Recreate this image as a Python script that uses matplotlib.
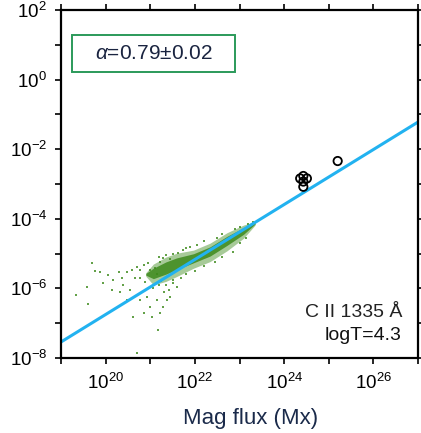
import matplotlib
matplotlib.use("Agg")
import matplotlib.pyplot as plt
import numpy as np
from matplotlib.patches import Rectangle

plt.rcParams['font.family'] = ['Liberation Sans', 'DejaVu Sans']
plt.rcParams['mathtext.fontset'] = 'custom'
plt.rcParams['mathtext.rm'] = 'Liberation Sans'
plt.rcParams['mathtext.it'] = 'Liberation Sans:italic'
plt.rcParams['mathtext.bf'] = 'Liberation Sans:bold'

# ---- data (log10 values) ----
# dense core of the green cloud: band edges
band_logx = [20.90, 21.07, 21.35, 21.59, 21.97, 22.34, 22.72, 23.09, 23.35]
band_upper_logy = [-5.55, -5.30, -5.10, -4.99, -4.90, -4.70, -4.40, -4.18, -4.08]
band_lower_logy = [-5.65, -5.90, -5.80, -5.66, -5.42, -5.23, -4.92, -4.56, -4.18]

# scattered green points
green_logx = [19.69, 19.34, 19.61, 19.58, 19.87, 19.76, 20.06, 19.95, 20.29, 20.36,
              20.47, 20.58, 20.70, 20.77, 20.85, 20.96, 21.00, 20.66, 20.55, 20.32,
              20.47, 20.77, 20.92, 21.00, 20.62, 20.85, 21.03, 21.18, 20.71, 21.22,
              21.29, 21.37, 21.44, 21.15, 21.07, 20.88, 20.77, 21.63, 21.74, 21.22,
              21.29, 20.17, 20.14, 20.40, 21.59, 21.52, 21.41,
              21.20, 21.35, 21.50, 21.45, 21.80, 21.90, 22.05, 22.20, 22.50, 22.60,
              22.90, 23.00, 23.20, 23.30, 21.30, 21.35, 21.50, 21.70, 21.80, 22.00,
              22.20, 22.45, 22.60, 22.85, 23.00, 23.15, 21.25, 21.15, 21.10, 21.20]
green_logy = [-5.28, -6.19, -6.45, -5.97, -5.52, -5.49, -5.62, -5.85, -5.52, -5.71,
              -5.52, -5.47, -5.38, -5.47, -5.33, -5.28, -5.47, -5.71, -6.05, -6.09,
              -6.33, -6.33, -6.24, -6.53, -6.81, -6.72, -6.81, -7.20, -7.87, -6.72,
              -6.53, -6.33, -6.24, -6.33, -6.00, -5.81, -5.71, -4.99, -4.90, -5.23,
              -5.14, -5.76, -6.05, -5.90, -5.95, -5.76, -6.05,
              -5.10, -5.05, -5.00, -5.15, -4.85, -4.80, -4.75, -4.65, -4.55, -4.45,
              -4.30, -4.25, -4.15, -4.10, -6.10, -5.90, -5.85, -5.70, -5.60, -5.50,
              -5.35, -5.25, -5.10, -4.95, -4.70, -4.55, -5.80, -5.60, -5.40, -5.90]

# black open circles
black_logx = [25.20, 24.36, 24.51, 24.43, 24.43, 24.43]
black_logy = [-2.34, -2.84, -2.84, -2.77, -2.93, -3.08]

# fitted power law (endpoints)
fit_logx = [19.0, 27.0]
fit_logy = [-7.54, -1.22]

xtick_exp = [20, 22, 24, 26]
ytick_exp = [2, 0, -2, -4, -6, -8]

# ---- figure ----
fig = plt.figure(figsize=(4.21, 4.33), dpi=100)
ax = fig.add_axes([61/421, 1-358/433, 357/421, 348/433])
ax.set_xscale('log')
ax.set_yscale('log')
ax.set_xlim(1e19, 1e27)
ax.set_ylim(1e-8, 1e2)

green = '#3d8a1c'
bx = 10.0**np.array(band_logx)
lo = np.array(band_lower_logy)
hi = np.array(band_upper_logy)
ax.fill_between(bx, 10.0**lo, 10.0**hi, color=green, alpha=0.45, lw=0)
core_lo = lo*0.7 + hi*0.3
core_hi = lo*0.2 + hi*0.8
ax.fill_between(bx, 10.0**core_lo, 10.0**core_hi, color=green, alpha=0.85, lw=0)

ax.scatter(10.0**np.array(green_logx), 10.0**np.array(green_logy), s=3,
           color=green, alpha=0.8, marker='s', lw=0)

ax.plot(10.0**np.array(fit_logx), 10.0**np.array(fit_logy), color='#22b2f0', lw=2.2,
        solid_capstyle='butt')

ax.scatter(10.0**np.array(black_logx), 10.0**np.array(black_logy), s=36,
           facecolors='none', edgecolors='black', linewidths=1.3, zorder=5)

# ticks
ax.minorticks_off()
ax.set_xticks([10.0**e for e in range(19, 28)])
ax.set_xticklabels([r'$\mathregular{10^{%d}}$' % e if e in xtick_exp else ''
                    for e in range(19, 28)])
ax.set_yticks([10.0**e for e in range(-8, 3)])
ax.set_yticklabels([r'$\mathregular{10^{%d}}$' % e if e in ytick_exp else ''
                    for e in range(-8, 3)])
ax.tick_params(which='major', direction='out', length=4, width=1.2,
               top=True, right=True, labelsize=13.5, colors='black')
ax.tick_params(axis='y', pad=6)
ax.tick_params(axis='x', pad=7)
for s in ax.spines.values():
    s.set_linewidth(1.6)

ax.set_xlabel('Mag flux (Mx)', fontsize=16, color='#1a2a4a')
ax.xaxis.set_label_coords(0.53, -0.145)

# alpha box
ax.add_patch(Rectangle((0.031, 0.822), 0.456, 0.106, transform=ax.transAxes,
                       fill=False, edgecolor='#2b9a5a', lw=1.4, zorder=6))
ax.text(0.259, 0.876, r'$\alpha$=0.79±0.02', transform=ax.transAxes,
        ha='center', va='center', fontsize=15, color='#1a2440', zorder=7)

ax.text(0.955, 0.13, 'C II 1335 Å', transform=ax.transAxes, ha='right',
        va='center', fontsize=14, color='#222222')
ax.text(0.955, 0.065, 'logT=4.3', transform=ax.transAxes, ha='right',
        va='center', fontsize=14, color='#111111')

fig.savefig('out.png', dpi=100)
